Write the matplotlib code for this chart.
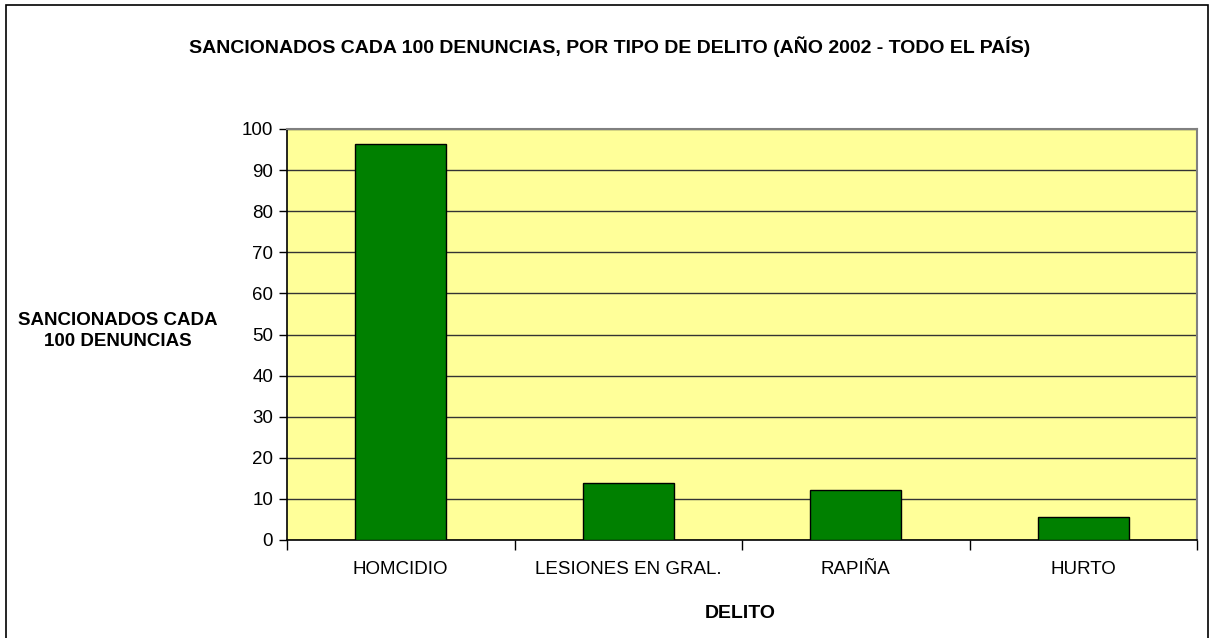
import numpy as np
import matplotlib
matplotlib.use("Agg")
from matplotlib import pyplot as plt
from matplotlib.patches import Rectangle

plt.rcParams['font.family'] = ['Liberation Sans', 'DejaVu Sans']

delitos = ['HOMCIDIO', 'LESIONES EN GRAL.', 'RAPIÑA', 'HURTO']
sancionados = [96.3, 13.8, 12.2, 5.5]
yticks = list(range(0, 101, 10))

fig = plt.figure(figsize=(12.09, 6.38), dpi=100)
ax = fig.add_axes([287 / 1209, 1 - 540 / 638, 910 / 1209, 411 / 638])

# outer chart frame
fig.patches.append(Rectangle((6 / 1209, -0.01), 1202 / 1209, 1 - 5 / 638 + 0.01,
                             transform=fig.transFigure, fill=False,
                             edgecolor='black', linewidth=1.2))

x = np.arange(len(delitos))
ax.set_facecolor('#FFFF99')
ax.bar(x, sancionados, width=0.4, color='#008000', edgecolor='black',
       linewidth=1.0, zorder=3)

ax.set_xlim(-0.5, len(delitos) - 0.5)
ax.set_ylim(0, 100)
ax.set_yticks(yticks)
ax.yaxis.grid(True, color='#333333', linewidth=1.0, zorder=1)
ax.set_axisbelow(True)

# category labels in the middle, ticks on the boundaries
ax.set_xticks(x)
ax.set_xticklabels(delitos, fontsize=13.5)
ax.tick_params(axis='x', length=0, pad=15)
ax.set_xticks(np.arange(-0.5, len(delitos)), minor=True)
ax.tick_params(axis='x', which='minor', length=7, width=1, color='black')
ax.tick_params(axis='y', length=6, width=1, labelsize=13.5, pad=4)

for side in ['top', 'right']:
    ax.spines[side].set_color('#808080')
    ax.spines[side].set_linewidth(1.5)
for side in ['left', 'bottom']:
    ax.spines[side].set_color('black')
    ax.spines[side].set_linewidth(1.2)

fig.text(610 / 1209, 1 - 47 / 638,
         'SANCIONADOS CADA 100 DENUNCIAS, POR TIPO DE DELITO (AÑO 2002 - TODO EL PAÍS)',
         ha='center', va='center', fontsize=14, fontweight='bold')
fig.text(118 / 1209, 1 - 331 / 638, 'SANCIONADOS CADA\n100 DENUNCIAS',
         ha='center', va='center', fontsize=13.5, fontweight='bold',
         linespacing=1.25)
fig.text(740 / 1209, 1 - 613 / 638, 'DELITO', ha='center', va='center',
         fontsize=14, fontweight='bold')

fig.savefig('out.png', dpi=100)
